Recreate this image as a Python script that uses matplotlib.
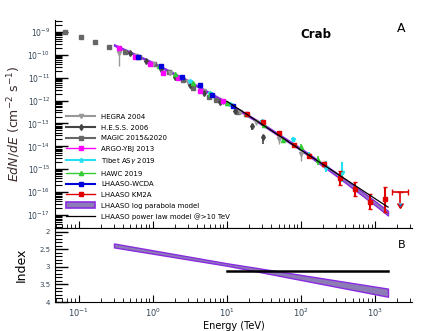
import numpy as np
import matplotlib
matplotlib.use("Agg")
import matplotlib.pyplot as plt
from matplotlib.lines import Line2D
from matplotlib.patches import Patch

# --- data (E in TeV, E dN/dE in cm^-2 s^-1) ---
hegra_e = [0.35, 0.6, 1.0, 1.7, 3.0, 5.0, 9.0, 15, 25, 50, 100]
hegra_f = [1.23e-10, 8.9e-11, 4.0e-11, 1.6e-11, 6.3e-12, 2.5e-12, 8.9e-13,
           3.2e-13, 1.12e-13, 2.0e-14, 4.5e-15]
hegra_lo = [0.6, 0.05, 0.05, 0.05, 0.05, 0.05, 0.07, 0.08, 0.1, 0.2, 0.3]
hegra_hi = [0.1, 0.05, 0.05, 0.05, 0.05, 0.05, 0.07, 0.08, 0.1, 0.15, 0.2]

hess_e = [0.5, 0.8, 1.3, 2.0, 3.2, 5.0, 8.0, 13, 22, 31]
hess_f = [1.17e-10, 5.6e-11, 2.5e-11, 1.12e-11, 5.0e-12, 2.2e-12, 8.9e-13,
          3.5e-13, 7.4e-14, 2.5e-14]
hess_lo = [0.03, 0.03, 0.03, 0.03, 0.04, 0.05, 0.06, 0.1, 0.15, 0.3]
hess_hi = [0.03, 0.03, 0.03, 0.03, 0.04, 0.05, 0.06, 0.1, 0.12, 0.1]

magic_e = [0.066, 0.107, 0.166, 0.26, 0.42, 0.66, 1.05, 1.65, 2.6, 3.5, 5.7, 7.1, 14]
magic_f = [1.0e-9, 6.0e-10, 3.7e-10, 2.2e-10, 1.35e-10, 7.8e-11, 3.8e-11,
           1.75e-11, 7.6e-12, 3.7e-12, 1.48e-12, 1.1e-12, 3.3e-13]

argo_e = [0.35, 0.57, 0.91, 1.37, 2.2, 4.4, 9.0, 18]
argo_f = [2.0e-10, 8.1e-11, 4.1e-11, 1.66e-11, 1.0e-11, 2.5e-12, 9.1e-13, 2.5e-13]

tibet_e = [3.2, 6.0, 11, 19, 30, 50, 78, 130, 220, 360]
tibet_f = [6.8e-12, 2.2e-12, 7.4e-13, 2.5e-13, 1.26e-13, 4.0e-14, 2.0e-14,
           4.0e-15, 1.3e-15, 7.4e-16]
tibet_err = [0.04, 0.04, 0.05, 0.05, 0.06, 0.08, 0.1, 0.15, 0.25, 0.43]

hawc_e = [1.2, 2.0, 3.5, 6.0, 10, 18, 32, 57, 100, 170]
hawc_f = [3.2e-11, 1.38e-11, 5.6e-12, 2.0e-12, 7.9e-13, 2.5e-13, 8.9e-14,
          1.8e-14, 9.1e-15, 2.5e-15]
hawc_err = [0.04, 0.04, 0.04, 0.05, 0.05, 0.06, 0.07, 0.1, 0.15, 0.2]

wcda_e = [0.64, 1.29, 2.5, 4.4, 6.4, 12.1]
wcda_f = [8.1e-11, 3.3e-11, 1.1e-11, 5.0e-12, 1.82e-12, 6.0e-13]

km2a_e = [19, 31, 50, 80, 130, 205, 340, 540, 860, 1370]
km2a_f = [2.5e-13, 1.1e-13, 4.0e-14, 1.12e-14, 3.9e-15, 1.66e-15, 4.1e-16,
          1.35e-16, 3.7e-17, 5.0e-17]
km2a_lo = [0.03, 0.03, 0.04, 0.05, 0.06, 0.1, 0.3, 0.3, 0.31, 0.57]
km2a_hi = [0.03, 0.03, 0.04, 0.05, 0.06, 0.1, 0.3, 0.3, 0.34, 0.52]

ul_e = [2200]
ul_f = [1.0e-16]
ul_e_lo = [1700]
ul_e_hi = [2800]

# log parabola model curve and band half-width (dex)
model_e = [0.3, 1, 3, 10, 30, 100, 300, 1000, 1500]
model_f = [2.7e-10, 4.5e-11, 7.2e-12, 8.1e-13, 9.3e-14, 7.4e-15, 6.0e-16, 3.3e-17, 1.2e-17]
model_w = [0.03, 0.03, 0.03, 0.03, 0.04, 0.05, 0.07, 0.09, 0.1]

# power law above 10 TeV
pl_e = [10, 1500]
pl_f = [9.3e-13, 2.2e-17]

# spectral index panel
idx_e = [0.3, 10, 1500]
idx_lo = [2.34, 2.90, 3.62]
idx_hi = [2.45, 2.97, 3.85]
pl_idx_e = [10, 1500]
pl_idx = [3.12, 3.12]

purple = '#8a2be2'
bandfill = '#8c7bb5'

fig = plt.figure(figsize=(4.38, 3.31), dpi=100)
ax = fig.add_axes([0.1256, 0.3112, 0.815, 0.6284])
ax2 = fig.add_axes([0.1256, 0.0876, 0.815, 0.2236], sharex=ax)


def dex_err(f, lo, hi):
    f = np.array(f)
    return [f - f * 10 ** (-np.array(lo)), f * 10 ** np.array(hi) - f]


# model band
mf = np.array(model_f)
mw = np.array(model_w)
ax.fill_between(model_e, mf * 10 ** (-mw), mf * 10 ** mw, facecolor=bandfill,
                edgecolor=purple, lw=1.0, zorder=2)

ax.errorbar(magic_e, magic_f, fmt='s', color='#666666', ms=3.3, zorder=3)
ax.errorbar(hegra_e, hegra_f, yerr=dex_err(hegra_f, hegra_lo, hegra_hi), fmt='v',
            color='#999999', ms=3, elinewidth=1, zorder=3)
ax.errorbar(hess_e, hess_f, yerr=dex_err(hess_f, hess_lo, hess_hi), fmt='d',
            color='#444444', ms=3, elinewidth=1.2, zorder=3)
ax.errorbar(argo_e, argo_f, fmt='s', color='#ff00ff', ms=3.3, zorder=3)
ax.errorbar(wcda_e, wcda_f, fmt='s', color='#0000dd', ms=3.3, zorder=4)
ax.errorbar(tibet_e, tibet_f, yerr=dex_err(tibet_f, tibet_err, tibet_err), fmt='*',
            color='#22e0f0', ms=3.5, elinewidth=1.5, zorder=3)
ax.errorbar(hawc_e, hawc_f, yerr=dex_err(hawc_f, hawc_err, hawc_err), fmt='^',
            color='#33cc33', ms=3, elinewidth=1.2, zorder=3)
ax.errorbar(km2a_e, km2a_f, yerr=dex_err(km2a_f, km2a_lo, km2a_hi), fmt='s',
            color='#e00000', ms=3, elinewidth=1.5, capsize=1.5, zorder=5)

# upper limit
ulf = np.array(ul_f)
ax.errorbar(ul_e, ul_f, xerr=[[ul_e[0] - ul_e_lo[0]], [ul_e_hi[0] - ul_e[0]]],
            yerr=[ulf * 0.65], uplims=True, fmt='none', ecolor='#e00000',
            elinewidth=1.2, capsize=2.5, zorder=5)

ax.plot(pl_e, pl_f, color='black', lw=0.9, zorder=6)

ax.set_xscale('log')
ax.set_yscale('log')
ax.set_xlim(0.048, 3160)
ax.set_ylim(2.7e-18, 3.3e-9)
ax.set_yticks([10.0 ** k for k in range(-17, -8)])
ax.tick_params(axis='both', which='both', direction='in', labelsize=5.5,
               labelcolor='#334455')
ax.tick_params(axis='y', which='major', length=9, width=1)
ax.tick_params(axis='y', which='minor', length=5, width=0.8)
ax.tick_params(axis='x', which='major', length=5)
ax.tick_params(axis='x', which='minor', length=3)
ax.tick_params(axis='x', labelbottom=False)
for s in ['top', 'right']:
    ax.spines[s].set_visible(False)
ax.set_ylabel(r'$EdN/dE$ (cm$^{-2}$ s$^{-1}$)', fontsize=9, color='#3a2a2a', labelpad=3)

ax.text(0.73, 0.93, 'Crab', transform=ax.transAxes, fontsize=8.5,
        fontweight='bold', ha='center', va='center')
ax.text(0.97, 0.96, 'A', transform=ax.transAxes, fontsize=9, ha='center', va='center')

handles = [
    Line2D([], [], color='#999999', marker='v', ms=3, lw=1.5),
    Line2D([], [], color='#444444', marker='d', ms=3, lw=1.5),
    Line2D([], [], color='#666666', marker='s', ms=3, lw=1.5),
    Line2D([], [], color='#ff00ff', marker='s', ms=3.5, lw=1.0),
    Line2D([], [], color='#22e0f0', marker='*', ms=3.5, lw=1.5),
    Line2D([], [], color='#33cc33', marker='^', ms=3, lw=1.0),
    Line2D([], [], color='#0000dd', marker='s', ms=3, lw=1.5),
    Line2D([], [], color='#e00000', marker='s', ms=3, lw=1.0),
    Patch(facecolor=bandfill, edgecolor=purple, lw=1.2),
    Line2D([], [], color='black', lw=0.9),
]
labels = ['HEGRA 2004', 'H.E.S.S. 2006', 'MAGIC 2015&2020', 'ARGO-YBJ 2013',
          r'Tibet AS$\gamma$ 2019', 'HAWC 2019', 'LHAASO-WCDA', 'LHAASO KM2A',
          'LHAASO log parabola model', 'LHAASO power law model @>10 TeV']
ax.legend(handles, labels, loc='lower left', bbox_to_anchor=(0.02, 0.02),
          fontsize=5.0, frameon=False, handlelength=4.2, handleheight=1.0,
          labelspacing=0.6, handletextpad=0.8, borderaxespad=0.2)

# index panel
ax2.fill_between(idx_e, idx_lo, idx_hi, facecolor=bandfill, edgecolor=purple,
                 lw=1.0)
ax2.plot(pl_idx_e, pl_idx, color='black', lw=1.8)
ax2.set_ylim(4.0, 1.9)
ax2.set_yticks([2, 2.5, 3, 3.5, 4])
ax2.set_yticklabels(['2', '2.5', '3', '3.5', '4'])
ax2.yaxis.set_minor_locator(matplotlib.ticker.MultipleLocator(0.1))
ax2.tick_params(axis='both', which='both', direction='in', labelsize=6,
                labelcolor='#334455')
ax2.tick_params(axis='y', which='major', length=9, width=1, labelsize=5)
ax2.tick_params(axis='y', which='minor', length=5, width=0.8)
ax2.tick_params(axis='x', which='major', length=5)
ax2.tick_params(axis='x', which='minor', length=3)
for s in ['right']:
    ax2.spines[s].set_visible(False)
ax2.set_ylabel('Index', fontsize=9, labelpad=8)
ax2.set_xlabel('Energy (TeV)', fontsize=7, labelpad=1)
ax2.text(0.97, 0.77, 'B', transform=ax2.transAxes, fontsize=8, ha='center', va='center')

fig.savefig('out.png', dpi=100)
